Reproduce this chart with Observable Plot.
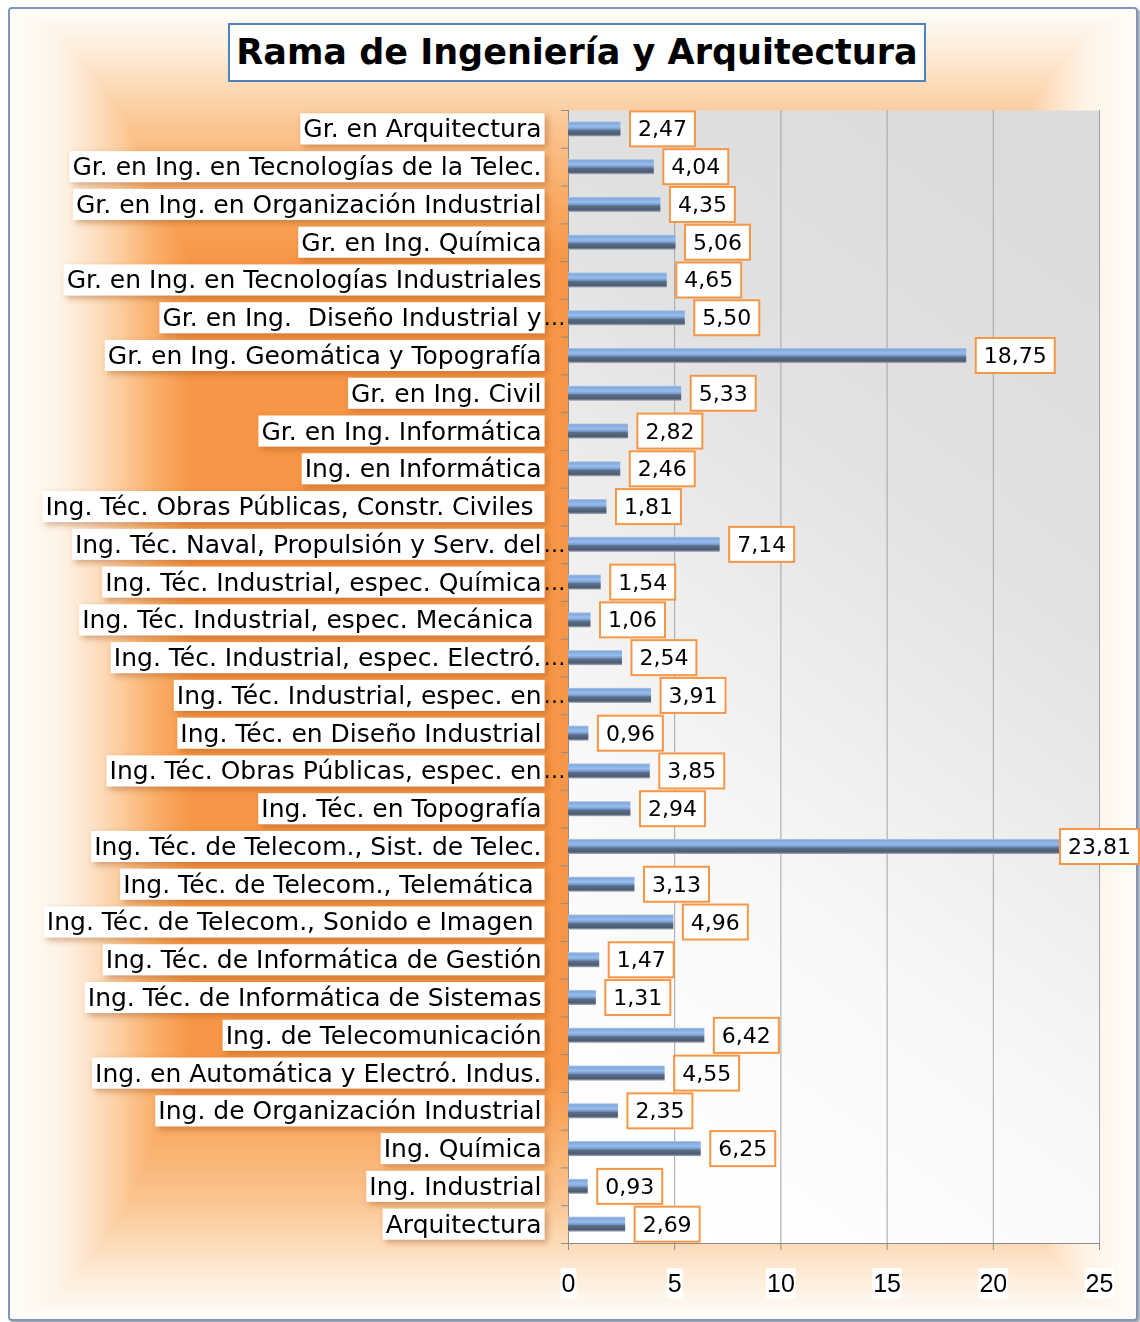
<!DOCTYPE html>
<html><head><meta charset="utf-8">
<script src="https://cdn.jsdelivr.net/npm/d3@7"></script>
<script src="https://cdn.jsdelivr.net/npm/@observablehq/plot@0.6"></script>
<style>
html,body{margin:0;padding:0;background:#fff;}
#wrap{position:relative;width:1140px;height:1322px;overflow:hidden;background:#fff;}
#bg{position:absolute;left:0;top:0;}
#frame{position:absolute;left:8px;top:7px;width:1126px;height:1310px;border:2px solid #7f97bb;border-radius:4px;box-shadow:2px 2px 2px rgba(0,0,0,0.35);pointer-events:none;}
#chart{position:absolute;left:0;top:0;}
#title{position:absolute;left:228px;top:23px;width:694px;height:55px;border:2px solid #4f81bd;background:#fff;font:bold 35px "DejaVu Sans";text-align:center;line-height:55px;color:#000;white-space:nowrap;}
</style></head>
<body>
<div id="wrap">
  <canvas id="bg"></canvas>
  <div id="frame"></div>
  <div id="chart"></div>
  <div id="title">Rama de Ingeniería y Arquitectura</div>
</div>
<script>
// ---- data ----
const labels = [
  "Gr. en Arquitectura",
  "Gr. en Ing. en Tecnologías de la Telec.",
  "Gr. en Ing. en Organización Industrial",
  "Gr. en Ing. Química",
  "Gr. en Ing. en Tecnologías Industriales",
  "Gr. en Ing.  Diseño Industrial y…",
  "Gr. en Ing. Geomática y Topografía",
  "Gr. en Ing. Civil",
  "Gr. en Ing. Informática",
  "Ing. en Informática",
  "Ing. Téc. Obras Públicas, Constr. Civiles ",
  "Ing. Téc. Naval, Propulsión y Serv. del…",
  "Ing. Téc. Industrial, espec. Química…",
  "Ing. Téc. Industrial, espec. Mecánica ",
  "Ing. Téc. Industrial, espec. Electró.…",
  "Ing. Téc. Industrial, espec. en…",
  "Ing. Téc. en Diseño Industrial",
  "Ing. Téc. Obras Públicas, espec. en…",
  "Ing. Téc. en Topografía",
  "Ing. Téc. de Telecom., Sist. de Telec.",
  "Ing. Téc. de Telecom., Telemática ",
  "Ing. Téc. de Telecom., Sonido e Imagen ",
  "Ing. Téc. de Informática de Gestión",
  "Ing. Téc. de Informática de Sistemas",
  "Ing. de Telecomunicación",
  "Ing. en Automática y Electró. Indus.",
  "Ing. de Organización Industrial",
  "Ing. Química",
  "Ing. Industrial",
  "Arquitectura"
];
const values = [2.47, 4.04, 4.35, 5.06, 4.65, 5.50, 18.75, 5.33, 2.82, 2.46,
  1.81, 7.14, 1.54, 1.06, 2.54, 3.91, 0.96, 3.85, 2.94, 23.81,
  3.13, 4.96, 1.47, 1.31, 6.42, 4.55, 2.35, 6.25, 0.93, 2.69];
const xTicks = [0, 5, 10, 15, 20, 25];
const xDomain = [0, 25];
const titleText = "Rama de Ingeniería y Arquitectura";

// ---- background (rectangular path gradient) ----
(function drawBg(){
  const W = 1140, H = 1322;
  const cv = document.getElementById("bg"); cv.width = W; cv.height = H;
  const ctx = cv.getContext("2d");
  const img = ctx.createImageData(W, H);
  const L = 10, R = 1135, T = 9, B = 1318;
  const cx = (L + R) / 2, cy = (T + B) / 2, hw = (R - L) / 2, hh = (B - T) / 2;
  const col = d3.scaleLinear()
    .domain([0, 0.25, 0.5, 0.7, 0.85, 1])
    .range(["#f79646", "#f9ad68", "#fbc590", "#fdddbd", "#fef0e0", "#fffdf9"]).clamp(true);
  const fx = d3.scaleLinear().domain([0, 0.68, 0.75, 0.8, 0.86, 0.92, 1]).range([0, 0, 0.3, 0.55, 0.75, 0.9, 1]).clamp(true);
  const fy = d3.scaleLinear().domain([0, 0.62, 0.72, 0.82, 0.9, 0.96, 1]).range([0, 0, 0.25, 0.5, 0.72, 0.88, 1]).clamp(true);
  const lut = d3.range(1001).map(i => d3.rgb(col(i / 1000)));
  for (let y = 0; y < H; y++) for (let x = 0; x < W; x++) {
    const k = (y * W + x) * 4;
    let c;
    if (x < L || x > R || y < T || y > B) c = {r:255,g:255,b:255};
    else {
      const u = Math.max(fx(Math.abs(x - cx) / hw), fy(Math.abs(y - cy) / hh));
      c = lut[Math.min(1000, Math.round(u * 1000))];
    }
    img.data[k] = c.r; img.data[k+1] = c.g; img.data[k+2] = c.b; img.data[k+3] = 255;
  }
  ctx.putImageData(img, 0, 0);
})();

// ---- chart ----
const fmt = v => v.toFixed(2).replace(".", ",");
const data = labels.map((label, i) => ({
  label, value: values[i],
  text: label.replace(/…$/, ""),
  trunc: label.endsWith("…")
}));
const W = 1140, H = 1322, mL = 568, mR = 41, mT = 110, mB = 79;
const step = (H - mT - mB) / labels.length;

const defs = () => {
  const g = d3.create("svg:defs");
  const bg = g.append("linearGradient").attr("id", "barGrad")
    .attr("x1", 0).attr("y1", 0).attr("x2", 0).attr("y2", 1);
  [[0,"#c2ccda"],[0.1,"#80a9e0"],[0.35,"#98bdec"],[0.52,"#7598ca"],[0.6,"#5d6e88"],[0.86,"#4c5b71"],[1,"#a9b3c0"]]
    .forEach(([o, c]) => bg.append("stop").attr("offset", o).attr("stop-color", c));
  const pg = g.append("linearGradient").attr("id", "plotGrad")
    .attr("x1", 0.65).attr("y1", 0).attr("x2", 0.3).attr("y2", 1);
  [[0,"#dcdcdc"],[0.3,"#e2e2e2"],[0.7,"#f8f8f8"],[1,"#ffffff"]]
    .forEach(([o, c]) => pg.append("stop").attr("offset", o).attr("stop-color", c));
  const f = g.append("filter").attr("id", "lblShadow").attr("x", "-10%").attr("y", "-30%").attr("width", "130%").attr("height", "180%");
  f.append("feDropShadow").attr("dx", 3).attr("dy", 3).attr("stdDeviation", 3)
    .attr("flood-color", "#a0501a").attr("flood-opacity", 0.45);
  return g.node();
};

const chart = Plot.plot({
  width: W, height: H,
  marginLeft: mL, marginRight: mR, marginTop: mT, marginBottom: mB,
  style: {background: "transparent", fontFamily: "DejaVu Sans", color: "#000", overflow: "visible"},
  x: {domain: xDomain, axis: null},
  y: {domain: labels, paddingInner: 0.6, paddingOuter: 0.3, round: false, axis: null},
  marks: [
    defs,
    Plot.frame({fill: "url(#plotGrad)", stroke: null}),
    Plot.gridX({ticks: xTicks.filter(t => t > 0), stroke: "#a3a3a3", strokeOpacity: 1}),
    Plot.ruleX([0], {stroke: "#8c8c8c"}),
    Plot.ruleY(labels, {y: d => d, dy: -step / 2, x1: 0, x2: 0, insetLeft: -7, stroke: "#8c8c8c"}),
    Plot.ruleY(labels.slice(-1), {y: d => d, dy: step / 2, x1: xDomain[0], x2: xDomain[1], insetLeft: -7, stroke: "#8c8c8c"}),
    Plot.barX(data, {x: "value", y: "label", fill: "url(#barGrad)"}),
    Plot.axisX({ticks: xTicks, tickSize: 7, tickPadding: 24, fontSize: 25, fontFamily: "Liberation Sans",
      stroke: "#8c8c8c", label: null, tickFormat: d => String(d)}),
    Plot.text(data, {x: 0, y: "label", text: "text", dx: -27, textAnchor: "end", fontSize: 25, fill: "#000"}),
    Plot.text(data.filter(d => d.trunc), {x: 0, y: "label", text: () => "…", dx: -25, textAnchor: "start", fontSize: 22, fill: "#000"}),
    Plot.text(data, {x: "value", y: "label", text: d => fmt(d.value), dx: 17, textAnchor: "start", fontSize: 22, fill: "#000"})
  ]
});
document.getElementById("chart").appendChild(chart);

// ---- post-process: boxes behind texts ----
const NS = "http://www.w3.org/2000/svg";
const svgRect = chart.getBoundingClientRect();
const textGroups = chart.querySelectorAll('g[aria-label="text"]');
function boxFor(text, padL, padR, h, fixedRight) {
  const bb = text.getBBox();
  const r = document.createElementNS(NS, "rect");
  const x0 = bb.x - padL;
  const x1 = fixedRight != null ? fixedRight : bb.x + bb.width + padR;
  r.setAttribute("x", x0);
  r.setAttribute("width", x1 - x0);
  r.setAttribute("y", bb.y + bb.height / 2 - h / 2);
  r.setAttribute("height", h);
  const tr = text.getAttribute("transform");
  if (tr) r.setAttribute("transform", tr);
  text.parentNode.insertBefore(r, text);
  return r;
}
// category labels
const labelGroup = textGroups[0];
labelGroup.setAttributeNS("http://www.w3.org/XML/1998/namespace", "xml:space", "preserve");
labelGroup.querySelectorAll("text").forEach(t => { t.style.whiteSpace = "pre"; });
labelGroup.querySelectorAll("text").forEach(t => {
  const bb = t.getBBox();
  const r = boxFor(t, 3, 3, 31, bb.x + bb.width + 3);
  r.setAttribute("fill", "#fff");
  r.setAttribute("filter", "url(#lblShadow)");
});
// value labels
textGroups[2].querySelectorAll("text").forEach(t => {
  const r = boxFor(t, 8, 8, 35);
  r.setAttribute("fill", "#fff");
  r.setAttribute("stroke", "#f79646");
  r.setAttribute("stroke-width", 2);
  const rb = r.getBoundingClientRect();
  const over = rb.right - svgRect.left - 1139;
  if (over > 0) {
    r.setAttribute("x", +r.getAttribute("x") - over);
    const tx = t.getAttribute("x");
    if (tx != null) t.setAttribute("x", +tx - over);
    else t.setAttribute("transform", (t.getAttribute("transform") || "") + ` translate(${-over},0)`);
  }
});
// x tick labels
chart.querySelectorAll('g[aria-label="x-axis tick label"] text').forEach(t => {
  const r = boxFor(t, 1, 1, 30);
  r.setAttribute("fill", "#fff");
});
</script>
</body></html>
